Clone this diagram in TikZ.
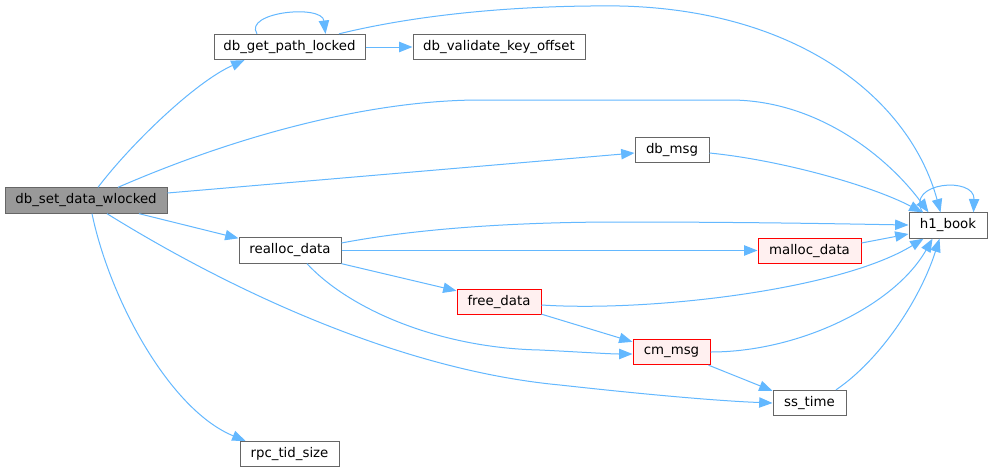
\documentclass[tikz,border=0pt]{standalone}
\usepackage{fontspec}
\setmainfont{DejaVu Sans}
\usetikzlibrary{arrows.meta,calc}
\definecolor{edgeblue}{HTML}{63B8FF}
\definecolor{boxgray}{HTML}{666666}
\definecolor{mainfill}{HTML}{999999}
\definecolor{redfill}{HTML}{FFF0F0}
\tikzset{
  fn/.style={draw=boxgray, line width=0.75pt, fill=white, rectangle, inner sep=0pt,
    minimum height=19pt, font=\fontsize{10pt}{12pt}\selectfont, text=black},
  mainfn/.style={fn, fill=mainfill},
  redfn/.style={fn, draw=red, fill=redfill},
  call/.style={draw=edgeblue, line width=0.75pt,
    -{Triangle[length=10pt,width=7.75pt,fill=edgeblue]}},
  plain/.style={draw=edgeblue, line width=0.75pt}
}
\begin{document}
\begin{tikzpicture}[x=0.75pt,y=-0.75pt]
\useasboundingbox[fill=white] (0,0) rectangle (992,472);
% nodes
\node[mainfn, minimum width=121.5pt] (main) at (86,200.5) {db\_set\_data\_wlocked};
\node[fn, minimum width=113.25pt] (gpl) at (289.5,47) {db\_get\_path\_locked};
\node[fn, minimum width=129pt] (dvk) at (499,47) {db\_validate\_key\_offset};
\node[fn, minimum width=55.5pt] (dbmsg) at (672,150) {db\_msg};
\node[fn, minimum width=58.5pt] (h1) at (948,225.5) {h1\_book};
\node[fn, minimum width=76.5pt] (realloc) at (290,250.5) {realloc\_data};
\node[redfn, minimum width=77.25pt] (malloc) at (809.5,251) {malloc\_data};
\node[redfn, minimum width=63pt] (free) at (499,302) {free\_data};
\node[redfn, minimum width=57.75pt] (cm) at (671.5,352) {cm\_msg};
\node[fn, minimum width=54.75pt] (ss) at (809.5,403) {ss\_time};
\node[fn, minimum width=74.25pt] (rpc) at (289.5,454) {rpc\_tid\_size};
% edges from db_set_data_wlocked
\draw[call] ($(main.north)+(12,0)$) .. controls (130,145) and (195,82) .. ($(gpl.south)+(-45,0)$);
\draw[call] ($(main.north)+(32,0)$) .. controls (250,130) and (380,100) .. (480,100)
   -- (730,100) .. controls (820,100) and (890,160) .. ($(h1.north west)+(20,0)$);
\draw[call] ($(main.east)+(0,-7.5)$) -- ($(dbmsg.west)+(0,3)$);
\draw[call] ($(main.south)+(53,0)$) -- ($(realloc.north west)+(0,1)$);
\draw[call] ($(main.south)+(21,0)$) .. controls (230,290) and (400,370) .. (560,385)
   .. controls (650,395) and (720,401) .. (ss.west);
\draw[call] ($(main.south)+(6,0)$) .. controls (110,300) and (170,410) .. ($(rpc.north west)+(6,0)$);
% db_get_path_locked
\draw[call] ($(gpl.north)+(-32.5,0)$) .. controls (243,12) and (322,4) .. ($(gpl.north)+(36,0)$);
\draw[call] (gpl.east) -- (dvk.west);
\draw[call] ($(gpl.north)+(49.5,0)$) .. controls (420,14) and (520,5) .. (620,6)
   .. controls (800,10) and (910,100) .. ($(h1.north west)+(32,0)$);
% db_msg
\draw[call] ($(dbmsg.east)+(0,3)$) .. controls (780,160) and (870,185) .. ($(h1.north west)+(14,0)$);
% realloc_data
\draw[call] ($(realloc.east)+(0,-7.5)$) .. controls (420,228) and (520,222) .. (620,222)
   .. controls (750,222) and (850,224) .. ($(h1.west)+(0,-0.5)$);
\draw[call] (realloc.east) -- ($(malloc.west)+(0,-0.5)$);
\draw[call] (realloc.south east) -- ($(free.north west)+(0,2)$);
\draw[call] ($(realloc.south)+(17,0)$) .. controls (350,310) and (440,348) .. (540,350)
   .. controls (580,352) and (610,354) .. ($(cm.west)+(0,2)$);
% malloc_data
\draw[call] ($(malloc.east)+(0,-8)$) -- ($(h1.west)+(0,8.5)$);
% free_data
\draw[call] ($(free.east)+(0,3)$) .. controls (650,312) and (840,290) .. ($(h1.south west)+(15,0)$);
\draw[call] ($(free.south east)+(0,-1)$) -- ($(cm.north west)+(0,3)$);
% cm_msg
\draw[call] (cm.east) .. controls (800,352) and (895,305) .. ($(h1.south west)+(24,0)$);
\draw[call] ($(cm.south east)+(-2,0)$) -- ($(ss.north west)+(0,1)$);
% ss_time
\draw[call] ($(ss.north)+(26.5,0)$) .. controls (880,360) and (920,300) .. ($(h1.south west)+(31,0)$);
% h1_book self loop
\draw[call] ($(h1.north west)+(14,0)$) .. controls (905,182) and (975,176) .. ($(h1.north east)+(-14,0)$);
\end{tikzpicture}
\end{document}
